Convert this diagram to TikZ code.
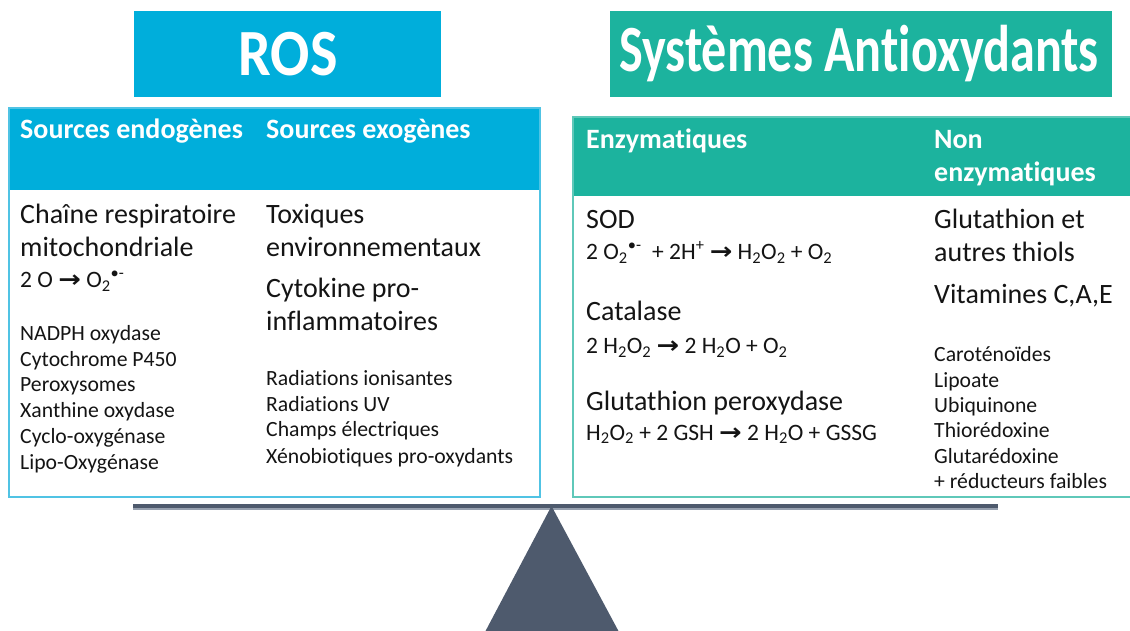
\documentclass[tikz,border=0pt]{standalone}
\usepackage{fontspec}
\setmainfont{Carlito}[Ligatures=NoCommon]
\newfontfamily\arrfont{DejaVu Sans}
\newcommand\arr{{\arrfont\bfseries\scalebox{1.15}[1]{→}}}
\definecolor{rosblue}{RGB}{0,174,219}
\definecolor{antiteal}{RGB}{28,179,158}
\definecolor{rosborder}{RGB}{80,195,228}
\definecolor{antiborder}{RGB}{95,200,185}
\definecolor{slate}{RGB}{78,90,109}
\definecolor{slatelight}{RGB}{150,160,175}
\definecolor{ink}{RGB}{20,20,20}
\begin{document}
\begin{tikzpicture}[x=1pt,y=-1pt,
  txt/.style={anchor=base west,inner sep=0pt,text=ink},
  hdr/.style={anchor=base west,inner sep=0pt,text=white,font=\bfseries\fontsize{28}{32}\selectfont},
  big/.style={txt,font=\fontsize{28}{32}\selectfont},
  mid/.style={txt,font=\fontsize{23.5}{27}\selectfont},
  small/.style={txt,font=\fontsize{21.7}{25}\selectfont},
  title/.style={text=white,font=\bfseries\fontsize{66}{70}\selectfont,inner sep=0pt}]
\useasboundingbox (0,0) rectangle (1130,630);
% title boxes
\fill[rosblue] (134,11) rectangle (441,97);
\node[title] (ros) at (288,54) {\scalebox{0.88}[1]{ROS}};
\fill[antiteal] (610,11) rectangle (1112,97);
\node[title] (anti) at (859,54) {\scalebox{0.76}[1]{Systèmes Antioxydants}};
% left panel
\fill[rosblue] (9,108) rectangle (540,190);
\draw[rosborder,line width=1.5pt] (9,108) rectangle (540,497);
% right panel
\fill[antiteal] (573,117) rectangle (1140,196);
\draw[antiborder,line width=1.5pt] (573,117) rectangle (1140,497);
% left headers
\node[hdr] (endo) at (20,138.5) {Sources endogènes};
\node[hdr] (exo) at (266,138.5) {Sources exogènes};
% left column
\node[big] (chaine) at (20,223.3) {Chaîne respiratoire};
\node[big] (mito) at (20,256.7) {mitochondriale};
\node[mid] (eqo) at (20,287.7) {2 O \arr{} O\textsubscript{2}\textsuperscript{•-}};
\node[small] (l1) at (20,340.7) {NADPH oxydase};
\node[small] (l2) at (20,366) {Cytochrome P450};
\node[small] (l3) at (20,391.7) {Peroxysomes};
\node[small] (l4) at (20,417.3) {Xanthine oxydase};
\node[small] (l5) at (20,443.3) {Cyclo-oxygénase};
\node[small] (l6) at (20,469.3) {Lipo-Oxygénase};
% exogenous column
\node[big] (tox) at (266,223.3) {Toxiques};
\node[big] (env) at (266,256.7) {environnementaux};
\node[big] (cyto) at (266,297) {Cytokine pro-};
\node[big] (infl) at (266,330) {inflammatoires};
\node[small] (r1) at (266,385) {Radiations ionisantes};
\node[small] (r2) at (266,411) {Radiations UV};
\node[small] (r3) at (266,436.7) {Champs électriques};
\node[small] (r4) at (266,463.3) {Xénobiotiques pro-oxydants};
% right headers
\node[hdr] (enz) at (586,148.3) {Enzymatiques};
\node[hdr] (non) at (934,148.3) {Non};
\node[hdr] (nonenz) at (934,181.7) {enzymatiques};
% enzymatic column
\node[big] (sod) at (586,228.3) {SOD};
\node[mid] (eqsod) at (586,259.3) {2 O\textsubscript{2}\textsuperscript{•-}\ \ + 2H\textsuperscript{+} \arr{} H\textsubscript{2}O\textsubscript{2} + O\textsubscript{2}};
\node[big] (cat) at (586,320) {Catalase};
\node[mid] (eqcat) at (586,353.3) {2 H\textsubscript{2}O\textsubscript{2} \arr{} 2 H\textsubscript{2}O + O\textsubscript{2}};
\node[big] (gpx) at (586,410) {Glutathion peroxydase};
\node[mid] (eqgpx) at (586,440) {H\textsubscript{2}O\textsubscript{2} + 2 GSH \arr{} 2 H\textsubscript{2}O + GSSG};
% non enzymatic column
\node[big] (glu) at (934,228.3) {Glutathion et};
\node[big] (thiol) at (934,261.7) {autres thiols};
\node[big] (vit) at (934,303) {Vitamines C,A,E};
\node[small] (n1) at (934,361.7) {Caroténoïdes};
\node[small] (n2) at (934,387.3) {Lipoate};
\node[small] (n3) at (934,412.3) {Ubiquinone};
\node[small] (n4) at (934,437.3) {Thiorédoxine};
\node[small] (n5) at (934,463.3) {Glutarédoxine};
\node[small] (n6) at (934,488.3) {+ réducteurs faibles};
% balance
\fill[slatelight] (133,507) rectangle (998,509.5);
\fill[slate] (133,503.5) rectangle (998,508);
\fill[slate] (551.5,506) -- (485,632) -- (619,632) -- cycle;
\end{tikzpicture}
\end{document}
